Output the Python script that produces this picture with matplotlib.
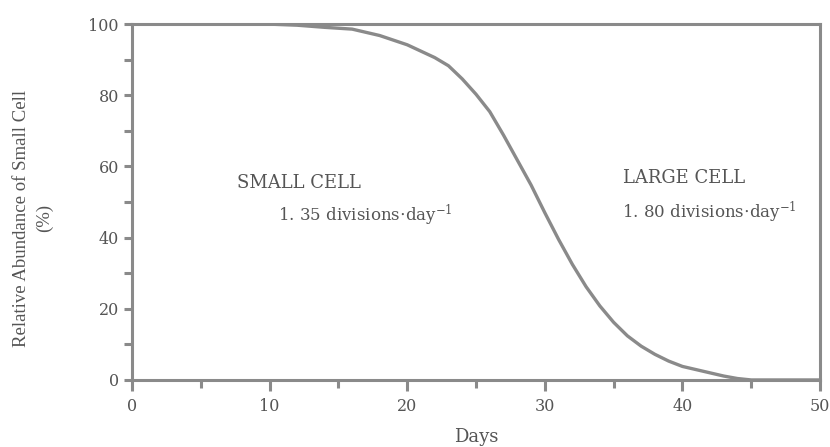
import numpy as np
import matplotlib.pyplot as plt
from matplotlib.ticker import MultipleLocator

plt.rcParams['font.family'] = ['DejaVu Serif']

# relative abundance of the small cell over time
days = [0, 5, 10, 12, 14, 16, 18, 20, 22, 23, 24, 25, 26, 27, 28, 29, 30,
        31, 32, 33, 34, 35, 36, 37, 38, 39, 40, 41, 42, 43, 44, 45, 50]
abundance = [100, 100, 100, 99.7, 99.1, 98.6, 96.8, 94.2, 90.6, 88.3, 84.6,
             80.3, 75.4, 68.8, 61.8, 54.8, 47.0, 39.5, 32.5, 26.2, 20.8,
             16.2, 12.4, 9.5, 7.2, 5.3, 3.8, 2.9, 2.0, 1.1, 0.4, 0, 0]

small_label = 'SMALL CELL'
small_rate = '1. 35 divisions$\\cdot$day$^{-1}$'
large_label = 'LARGE CELL'
large_rate = '1. 80 divisions$\\cdot$day$^{-1}$'

grey = '#8a8a8a'
txt = '#555555'

fig = plt.figure(figsize=(8.3, 4.47), dpi=100)
ax = fig.add_axes([0.159, 0.150, 0.829, 0.796])

ax.plot(days, abundance, color=grey, lw=2.4, solid_capstyle='round', zorder=3)

ax.set_xlim(0, 50)
ax.set_ylim(0, 100)
ax.xaxis.set_major_locator(MultipleLocator(10))
ax.xaxis.set_minor_locator(MultipleLocator(5))
ax.yaxis.set_major_locator(MultipleLocator(20))
ax.yaxis.set_minor_locator(MultipleLocator(10))
ax.tick_params(which='both', direction='out', length=6, width=2.2,
               color=grey, labelcolor=txt, labelsize=11.5)
ax.tick_params(axis='x', which='major', length=8, pad=5)
for s in ax.spines.values():
    s.set_color(grey)
    s.set_linewidth(2.2)

ax.set_xlabel('Days', fontsize=13, color=txt, va='center')
ax.xaxis.set_label_coords(0.5, -0.16)
ax.set_ylabel('Relative Abundance of Small Cell\n(%)', fontsize=13.5,
              color=txt, va='center', linespacing=1.4,
              family=['Liberation Serif'])
ax.yaxis.set_label_coords(-0.144, 0.455)

ax.text(7.6, 55.3, small_label, fontsize=13, color=txt, va='center')
ax.text(10.6, 46.3, small_rate, fontsize=12, color=txt, va='center',
        math_fontfamily='dejavuserif')
ax.text(35.7, 56.7, large_label, fontsize=13, color=txt, va='center')
ax.text(35.6, 47.0, large_rate, fontsize=12, color=txt, va='center',
        math_fontfamily='dejavuserif')

fig.savefig('out.png', dpi=100)
